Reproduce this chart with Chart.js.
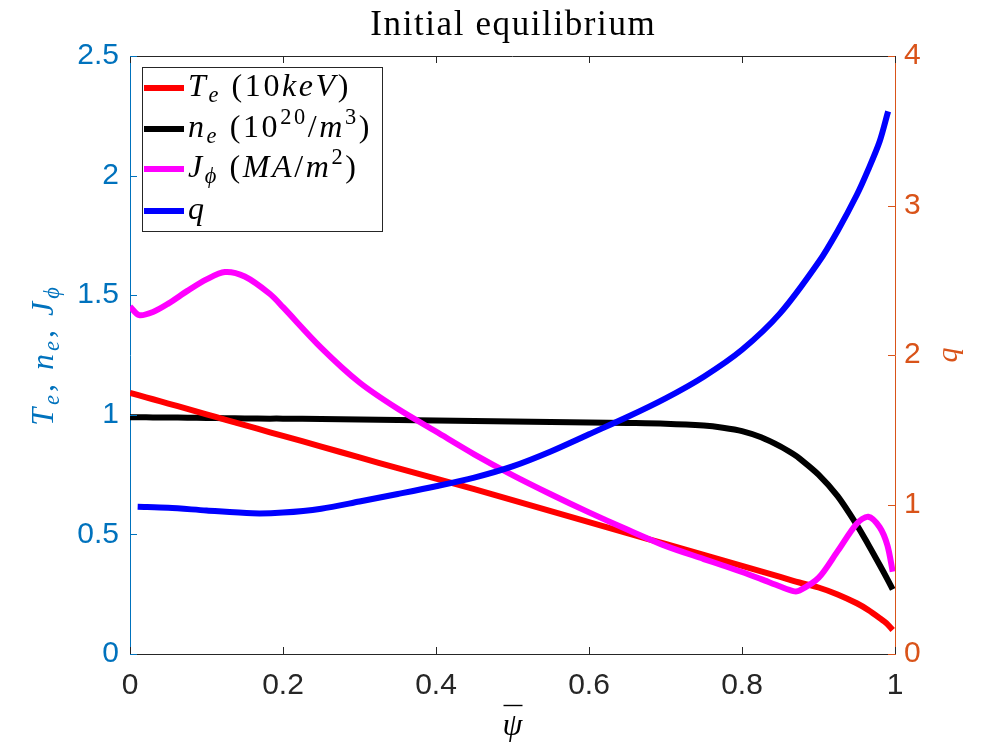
<!DOCTYPE html>
<html>
<head>
<meta charset="utf-8">
<title>Initial equilibrium</title>
<script src="https://cdn.jsdelivr.net/npm/chart.js@4.4.1/dist/chart.umd.min.js"></script>
<style>
  html, body { margin: 0; padding: 0; background: #fff; }
  #wrap { width: 1000px; height: 750px; }
</style>
</head>
<body>
<div id="wrap"><canvas id="chart" width="1000" height="750"></canvas></div>
<script>
// DATA

const psi = [0, 0.012, 0.03, 0.05, 0.075, 0.1, 0.124, 0.15, 0.183, 0.2, 0.25, 0.3, 0.35, 0.4,
  0.45, 0.5, 0.55, 0.6, 0.65, 0.7, 0.75, 0.775, 0.8, 0.825, 0.85, 0.867, 0.875, 0.9, 0.925,
  0.95, 0.965, 0.98, 0.99, 0.997];

const te = [1.092, 1.081, 1.065, 1.047, 1.025, 1.002, 0.980, 0.957, 0.927, 0.912, 0.867, 0.822,
  0.777, 0.733, 0.689, 0.643, 0.597, 0.551, 0.505, 0.460, 0.414, 0.391, 0.368, 0.345, 0.322,
  0.306, 0.299, 0.278, 0.249, 0.212, 0.184, 0.150, 0.125, 0.100];

const ne = [0.990, 0.990, 0.989, 0.989, 0.988, 0.987, 0.986, 0.985, 0.984, 0.984, 0.982, 0.980,
  0.978, 0.976, 0.974, 0.972, 0.970, 0.968, 0.966, 0.963, 0.955, 0.946, 0.932, 0.906, 0.868,
  0.836, 0.818, 0.750, 0.660, 0.540, 0.458, 0.372, 0.313, 0.270];

const jphi = [1.452, 1.417, 1.430, 1.465, 1.518, 1.566, 1.597, 1.578, 1.505, 1.450, 1.280, 1.135,
  1.025, 0.930, 0.835, 0.748, 0.668, 0.592, 0.520, 0.452, 0.397, 0.370, 0.343, 0.313, 0.282,
  0.263, 0.265, 0.318, 0.430, 0.545, 0.574, 0.530, 0.455, 0.344];

const psiQ = [0.01, 0.05, 0.1, 0.16, 0.2, 0.25, 0.3, 0.35, 0.4, 0.45, 0.5, 0.55, 0.6, 0.65,
  0.7, 0.75, 0.8, 0.85, 0.9, 0.925, 0.95, 0.965, 0.98, 0.991];

const q = [0.985, 0.978, 0.960, 0.941, 0.946, 0.972, 1.020, 1.070, 1.122, 1.180, 1.255, 1.355,
  1.470, 1.585, 1.710, 1.855, 2.035, 2.280, 2.620, 2.830, 3.070, 3.240, 3.430, 3.630];

const xTicks = [0, 0.2, 0.4, 0.6, 0.8, 1];
const leftTicks = [0, 0.5, 1, 1.5, 2, 2.5];
const rightTicks = [0, 1, 2, 3, 4];

// TEXT (LaTeX-like pieces: i = italic, r = roman, b = subscript, p = superscript)

const titleText = "Initial equilibrium";

const legendParts = [
  [["T", "i"], ["e", "ib"], [" (", "r"], ["10", "r"], ["keV", "i"], [")", "r"]],
  [["n", "i"], ["e", "ib"], [" (", "r"], ["10", "r"], ["20", "rp"], ["/", "r"], ["m", "i"], ["3", "rp"], [")", "r"]],
  [["J", "i"], ["\u03D5", "ib"], [" (", "r"], ["MA", "i"], ["/", "r"], ["m", "i"], ["2", "rp"], [")", "r"]],
  [["q", "i"]]
];

const leftLabelParts = [["T", "i"], ["e", "ib"], [", ", "r"], ["n", "i"], ["e", "ib"], [", ", "r"], ["J", "i"], ["\u03D5", "ib"]];

const BLUE_AX = "#0072BD";
const ORANGE_AX = "#D95319";
const DARK = "#262626";
const SERIF = "'Liberation Serif', 'Times New Roman', serif";

// RICH TEXT HELPER

function richText(ctx, parts, x, y, size, spacing, draw) {
  let cx = x;
  parts.forEach(([text, style]) => {
    const small = style.length > 1;
    const fs = small ? size * 0.7 : size;
    ctx.font = (style[0] === "i" ? "italic " : "") + fs + "px " + SERIF;
    let dy = 0;
    if (style[1] === "b") dy = size * 0.2;
    if (style[1] === "p") dy = -size * 0.4;
    for (const ch of text) {
      if (draw) ctx.fillText(ch, cx, y + dy);
      cx += ctx.measureText(ch).width + spacing;
    }
  });
  return cx - x;
}

// PLUGIN: matlab-like box, inward ticks, labels, legend

const matlabAxes = {
  id: "matlabAxes",
  afterDraw(chart) {
    const { ctx, chartArea: area } = chart;
    const { x, y, y1 } = chart.scales;
    const tickLen = 7;
    ctx.save();
    ctx.lineWidth = 1;

    // top edge of the box
    ctx.strokeStyle = DARK;
    ctx.beginPath();
    ctx.moveTo(area.left, Math.round(area.top) + 0.5);
    ctx.lineTo(area.right, Math.round(area.top) + 0.5);
    ctx.stroke();

    // x ticks, bottom and top
    x.ticks.forEach(t => {
      const px = Math.round(x.getPixelForValue(t.value)) + 0.5;
      ctx.beginPath();
      ctx.moveTo(px, area.bottom);
      ctx.lineTo(px, area.bottom - tickLen);
      ctx.moveTo(px, area.top);
      ctx.lineTo(px, area.top + tickLen);
      ctx.stroke();
    });

    ctx.strokeStyle = BLUE_AX;
    y.ticks.forEach(t => {
      const py = Math.round(y.getPixelForValue(t.value)) + 0.5;
      ctx.beginPath();
      ctx.moveTo(area.left, py);
      ctx.lineTo(area.left + tickLen, py);
      ctx.stroke();
    });

    ctx.strokeStyle = ORANGE_AX;
    y1.ticks.forEach(t => {
      const py = Math.round(y1.getPixelForValue(t.value)) + 0.5;
      ctx.beginPath();
      ctx.moveTo(area.right, py);
      ctx.lineTo(area.right - tickLen, py);
      ctx.stroke();
    });

    // title
    ctx.fillStyle = "#000";
    ctx.textBaseline = "alphabetic";
    ctx.textAlign = "left";
    const tSize = 35, tSpace = 1.6;
    const tw = richText(ctx, [[titleText, "r"]], 0, 0, tSize, tSpace, false) - tSpace;
    richText(ctx, [[titleText, "r"]], (area.left + area.right) / 2 - tw / 2, 35, tSize, tSpace, true);

    // left axis label (rotated)
    const midY = (area.top + area.bottom) / 2;
    ctx.fillStyle = BLUE_AX;
    const lSize = 32, lSpace = 3;
    const lw = richText(ctx, leftLabelParts, 0, 0, lSize, lSpace, false);
    ctx.save();
    ctx.translate(53, midY);
    ctx.rotate(-Math.PI / 2);
    richText(ctx, leftLabelParts, -lw / 2, 0, lSize, lSpace, true);
    ctx.restore();

    // right axis label
    ctx.fillStyle = ORANGE_AX;
    const qw = richText(ctx, [["q", "i"]], 0, 0, 30, 0, false);
    ctx.save();
    ctx.translate(957, midY);
    ctx.rotate(-Math.PI / 2);
    richText(ctx, [["q", "i"]], -qw / 2, 0, 30, 0, true);
    ctx.restore();

    // x axis label: psi with a bar
    ctx.fillStyle = "#000";
    const cx = (area.left + area.right) / 2;
    const pw = richText(ctx, [["\u03C8", "i"]], 0, 0, 32, 0, false);
    richText(ctx, [["\u03C8", "i"]], cx - pw / 2, 735, 32, 0, true);
    ctx.strokeStyle = "#000";
    ctx.lineWidth = 1.4;
    ctx.beginPath();
    ctx.moveTo(cx - 9, 705.5);
    ctx.lineTo(cx + 10, 705.5);
    ctx.stroke();

    // legend
    const box = { x: 142, y: 67, w: 240, h: 164 };
    const rowY = [88, 129, 169, 211];
    ctx.fillStyle = "#fff";
    ctx.fillRect(box.x, box.y, box.w, box.h);
    ctx.strokeStyle = DARK;
    ctx.lineWidth = 1;
    ctx.strokeRect(box.x + 0.5, box.y + 0.5, box.w, box.h);
    const legendSets = [0, 1, 2, 3].map(i => chart.data.datasets[i]);
    legendSets.forEach((ds, i) => {
      ctx.strokeStyle = ds.borderColor;
      ctx.lineWidth = ds.borderWidth;
      ctx.beginPath();
      ctx.moveTo(144, rowY[i]);
      ctx.lineTo(184, rowY[i]);
      ctx.stroke();
      ctx.fillStyle = "#000";
      richText(ctx, legendParts[i], 188, rowY[i] + 8, 32, 2.6, true);
    });

    ctx.restore();
  }
};

// BUILD CHART

Chart.defaults.font.family = "'Liberation Sans', Arial, sans-serif";

function toPoints(xs, ys) {
  return xs.map((v, i) => ({ x: v, y: ys[i] }));
}

const lineStyle = {
  borderWidth: 6,
  pointRadius: 0,
  fill: false,
  tension: 0.3,
  borderJoinStyle: "round"
};

const tickText = v => String(v);

const chart = new Chart(document.getElementById("chart").getContext("2d"), {
  type: "line",
  data: {
    datasets: [
      { ...lineStyle, label: "Te (10keV)", data: toPoints(psi, te), borderColor: "#FF0000", yAxisID: "y", order: 2 },
      { ...lineStyle, label: "ne (10^20/m^3)", data: toPoints(psi, ne), borderColor: "#000000", yAxisID: "y", order: 3 },
      { ...lineStyle, label: "Jphi (MA/m^2)", data: toPoints(psi, jphi), borderColor: "#FF00FF", yAxisID: "y", order: 1 },
      { ...lineStyle, label: "q", data: toPoints(psiQ, q), borderColor: "#0000FF", yAxisID: "y1", order: 0 }
    ]
  },
  options: {
    responsive: false,
    animation: false,
    layout: { padding: { top: 56, left: 0, right: 0, bottom: 0 } },
    plugins: {
      legend: { display: false },
      tooltip: { enabled: false },
      title: { display: false }
    },
    scales: {
      x: {
        type: "linear",
        min: 0,
        max: 1,
        afterBuildTicks: s => { s.ticks = xTicks.map(v => ({ value: v })); },
        afterFit: s => { s.height = 96; },
        grid: { display: false, drawTicks: false },
        border: { color: DARK, width: 1 },
        ticks: { color: DARK, font: { size: 30 }, padding: 14, maxRotation: 0, callback: tickText }
      },
      y: {
        position: "left",
        min: 0,
        max: 2.5,
        afterBuildTicks: s => { s.ticks = leftTicks.map(v => ({ value: v })); },
        afterFit: s => { s.width = 130; },
        grid: { display: false, drawTicks: false },
        border: { color: BLUE_AX, width: 1 },
        ticks: { color: BLUE_AX, font: { size: 30 }, padding: 11, callback: tickText }
      },
      y1: {
        position: "right",
        min: 0,
        max: 4,
        afterBuildTicks: s => { s.ticks = rightTicks.map(v => ({ value: v })); },
        afterFit: s => { s.width = 105; },
        grid: { display: false, drawTicks: false },
        border: { color: ORANGE_AX, width: 1 },
        ticks: { color: ORANGE_AX, font: { size: 30 }, padding: 9, callback: tickText }
      }
    }
  },
  plugins: [matlabAxes]
});
</script>
</body>
</html>
